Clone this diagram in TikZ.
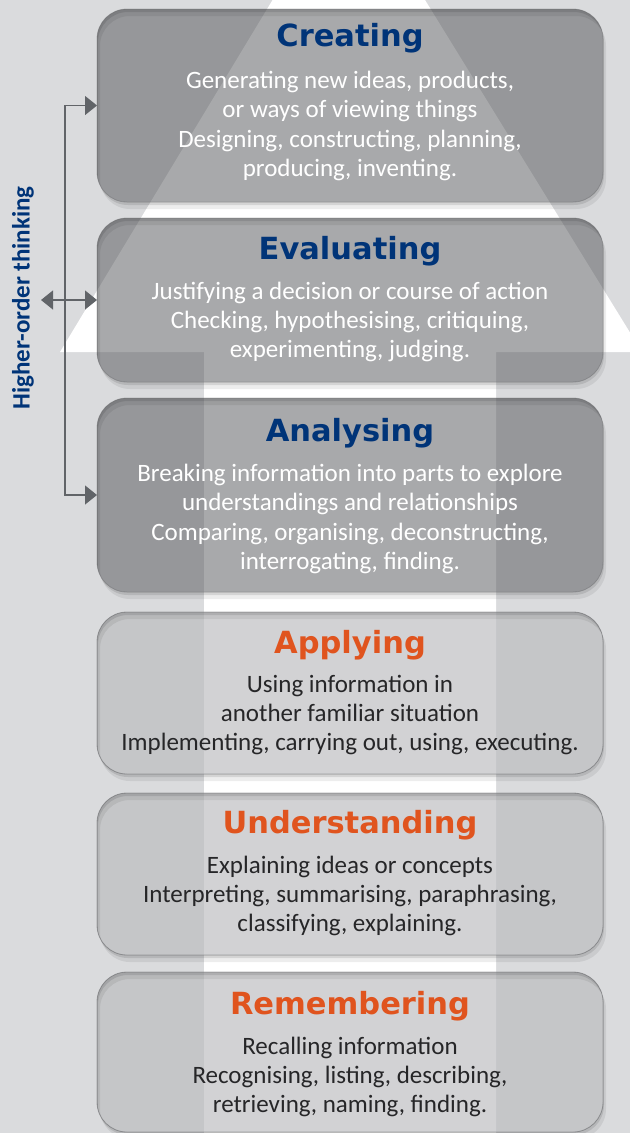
\documentclass[tikz,border=0pt]{standalone}
\usepackage{fontspec}
\setmainfont{Carlito}
\newfontfamily\headfont{DejaVu Sans}
\usetikzlibrary{arrows.meta}

\definecolor{pagegray}{RGB}{218,219,221}
\definecolor{topgray}{RGB}{83,85,88}
\definecolor{lowgray}{RGB}{186,187,190}
\definecolor{rimgray}{RGB}{120,121,124}
\definecolor{deepblue}{RGB}{0,52,120}
\definecolor{burnt}{RGB}{224,84,30}
\definecolor{linkgray}{RGB}{97,100,104}
\definecolor{inkdark}{RGB}{38,38,40}

\tikzset{
  stagebox/.style={rounded corners=30pt, minimum width=506pt, inner sep=0pt,
    outer sep=0pt, draw=rimgray, line width=.8pt},
  upperbox/.style={stagebox, fill=topgray, fill opacity=.5, draw opacity=.45},
  lowerbox/.style={stagebox, fill=lowgray, fill opacity=.65, draw opacity=.6},
  stagetitle/.style={anchor=base, inner sep=0pt, font=\headfont\bfseries\fontsize{30.5}{34}\selectfont},
  stagetext/.style={align=center, inner sep=0pt, font=\fontsize{25}{29.3}\selectfont},
  link/.style={draw=linkgray, line width=1.3pt},
  tip/.tip={Triangle[length=12pt, width=19pt]}
}

\begin{document}
\begin{tikzpicture}[x=1pt, y=-1pt]
  \useasboundingbox (0,0) rectangle (630,1133);
  \clip (0,0) rectangle (630,1133);
  \fill[pagegray] (0,0) rectangle (630,1133);

  % white arrow behind the levels
  \fill[white] (348,-125) -- (642,352) -- (496,352) -- (496,1140)
    -- (204,1140) -- (204,352) -- (60,352) -- cycle;

  % levels
  \node[upperbox, minimum height=193pt] (cre) at (350,105.5) {};
  \node[upperbox, minimum height=164pt] (eva) at (350,300) {};
  \node[upperbox, minimum height=194pt] (ana) at (350,495) {};
  \node[lowerbox, minimum height=162pt] (app) at (350,693) {};
  \node[lowerbox, minimum height=162pt] (und) at (350,874) {};
  \node[lowerbox, minimum height=160pt] (rem) at (350,1052) {};

  % soft shadows outside the boxes
  \foreach \b in {cre,eva,ana,app,und,rem} {
    \fill[black, opacity=.10, even odd rule, rounded corners=30pt]
      ([shift={(1,3)}]\b.north west) rectangle ([shift={(1,3)}]\b.south east)
      (\b.north west) rectangle (\b.south east);
    \fill[black, opacity=.07, even odd rule, rounded corners=30pt]
      ([shift={(3,7)}]\b.north west) rectangle ([shift={(3,7)}]\b.south east)
      (\b.north west) rectangle (\b.south east);
  }

  \node[stagetitle, text=deepblue] (cre-t) at (350,46) {Creating};
  \node[stagetext, text=white] (cre-b) at (350,126)
    {Generating new ideas, products,\\ or ways of viewing things\\
     Designing, constructing, planning,\\ producing, inventing.};

  \node[stagetitle, text=deepblue] (eva-t) at (350,259) {Evaluating};
  \node[stagetext, text=white] (eva-b) at (350,322)
    {Justifying a decision or course of action\\ Checking, hypothesising, critiquing,\\
     experimenting, judging.};

  \node[stagetitle, text=deepblue] (ana-t) at (350,441) {Analysing};
  \node[stagetext, text=white] (ana-b) at (350,519)
    {Breaking information into parts to explore\\ understandings and relationships\\
     Comparing, organising, deconstructing,\\ interrogating, finding.};

  \node[stagetitle, text=burnt] (app-t) at (350,653) {Applying};
  \node[stagetext, text=inkdark] (app-b) at (350,715)
    {Using information in\\ another familiar situation\\
     Implementing, carrying out, using, executing.};

  \node[stagetitle, text=burnt] (und-t) at (350,833) {Understanding};
  \node[stagetext, text=inkdark] (und-b) at (350,896)
    {Explaining ideas or concepts\\ Interpreting, summarising, paraphrasing,\\
     classifying, explaining.};

  \node[stagetitle, text=burnt] (rem-t) at (350,1014) {Remembering};
  \node[stagetext, text=inkdark] (rem-b) at (350,1077)
    {Recalling information\\ Recognising, listing, describing,\\
     retrieving, naming, finding.};

  % higher-order bracket
  \node[rotate=90, text=deepblue, font=\bfseries\fontsize{25}{25}\selectfont]
    (hot) at (23,298) {Higher-order thinking};
  \coordinate (spine) at (65,0);
  \coordinate (fork) at (41,300);
  \draw[link, {tip}-{tip}] (cre.west) -| (spine |- ana.west) -- (ana.west);
  \draw[link, {tip}-{tip}] (fork) -- (eva.west);
\end{tikzpicture}
\end{document}
